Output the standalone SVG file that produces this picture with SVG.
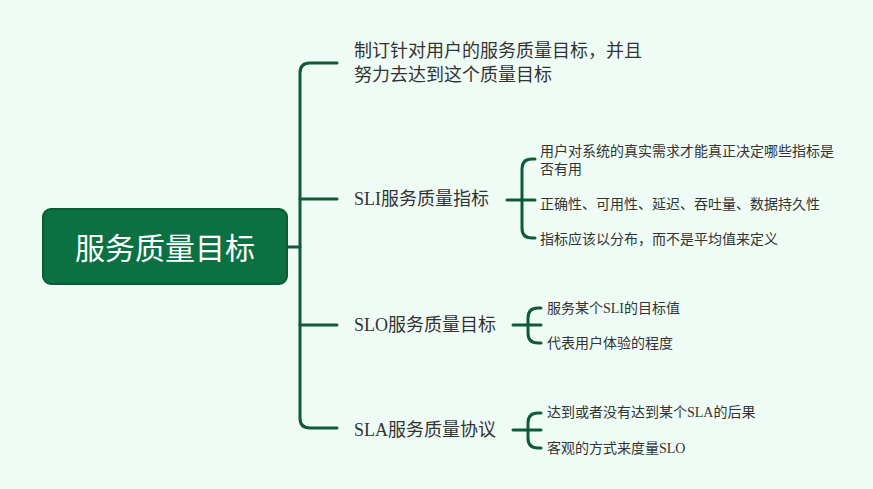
<svg xmlns="http://www.w3.org/2000/svg" width="873" height="489" viewBox="0 0 873 489">
<style>
.ln{fill:none;stroke:#0f5a38;stroke-width:3;stroke-linecap:round;stroke-linejoin:round}
.t1{font-family:"Liberation Serif","Noto Sans CJK SC",serif;font-size:18px;fill:#333333;dominant-baseline:central}
.t2{font-family:"Liberation Serif","Noto Sans CJK SC",serif;font-size:14px;fill:#333333;dominant-baseline:central}
.root{font-family:"Noto Sans CJK SC",sans-serif;font-size:30px;fill:#ffffff;dominant-baseline:central;text-anchor:middle}
</style>
<rect width="873" height="489" fill="#effcf6"/>
<g id="connectors">
<path class="ln" d="M287,247 H300"/>
<path class="ln" d="M337,63 H310 Q300,63 300,73 V418 Q300,428 310,428 H337"/>
<path class="ln" d="M300,199 H337"/>
<path class="ln" d="M300,325 H337"/>
<path class="ln" d="M507,200 H535"/>
<path class="ln" d="M535,159 H532 Q522,159 522,169 V228 Q522,238 532,238 H535"/>
<path class="ln" d="M513,325 H541"/>
<path class="ln" d="M541,308 H538 Q528,308 528,318 V333 Q528,343 538,343 H541"/>
<path class="ln" d="M513,430 H541"/>
<path class="ln" d="M541,413 H538 Q528,413 528,423 V438 Q528,448 538,448 H541"/>
</g>
<g id="root">
<rect x="43" y="209" width="244" height="75" rx="8" fill="#0b7042" stroke="#0a5c35" stroke-width="2"/>
<text class="root" x="165" y="246">服务质量目标</text>
</g>
<g id="n-goal">
<text class="t1" x="354" y="51">制订针对用户的服务质量目标，并且</text>
<text class="t1" x="354" y="75">努力去达到这个质量目标</text>
</g>
<g id="n-sli">
<text class="t1" x="354" y="199">SLI服务质量指标</text>
</g>
<g id="n-slo">
<text class="t1" x="354" y="325">SLO服务质量目标</text>
</g>
<g id="n-sla">
<text class="t1" x="354" y="430">SLA服务质量协议</text>
</g>
<g id="n-sli-1">
<text class="t2" x="540" y="151">用户对系统的真实需求才能真正决定哪些指标是</text>
<text class="t2" x="540" y="169">否有用</text>
</g>
<g id="n-sli-2">
<text class="t2" x="540" y="204">正确性、可用性、延迟、吞吐量、数据持久性</text>
</g>
<g id="n-sli-3">
<text class="t2" x="540" y="239">指标应该以分布，而不是平均值来定义</text>
</g>
<g id="n-slo-1">
<text class="t2" x="547" y="308">服务某个SLI的目标值</text>
</g>
<g id="n-slo-2">
<text class="t2" x="547" y="343">代表用户体验的程度</text>
</g>
<g id="n-sla-1">
<text class="t2" x="547" y="412">达到或者没有达到某个SLA的后果</text>
</g>
<g id="n-sla-2">
<text class="t2" x="547" y="448">客观的方式来度量SLO</text>
</g>
</svg>
